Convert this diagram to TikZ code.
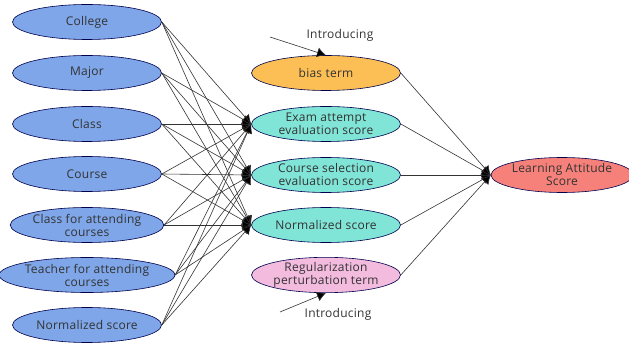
\documentclass[tikz,border=0pt]{standalone}
\usepackage{fontspec}
\setmainfont{Open Sans}[LetterSpace=2]
\usetikzlibrary{arrows.meta,shapes.geometric}
\definecolor{cblue}{HTML}{7EA6E8}
\definecolor{corange}{HTML}{FCBF55}
\definecolor{cteal}{HTML}{80E4D6}
\definecolor{cpink}{HTML}{F3BBDD}
\definecolor{csalmon}{HTML}{F6817A}
\tikzset{
  txt/.style={font=\fontsize{12}{13}\selectfont, text=black!80},
  el/.style={ellipse, draw=black!70!blue, line width=0.6pt, minimum width=149pt, minimum height=35pt, inner sep=0pt, align=center, txt},
  conn/.style={draw=black!80, line width=0.6pt, -{Latex[length=9pt,width=10pt,fill=black]}},
}
\begin{document}
\begin{tikzpicture}[x=1pt,y=-1pt]
\useasboundingbox (0,0) rectangle (629,347);
\node[el, fill=cblue] (l1) at (87,22) {College};
\node[el, fill=cblue] (l2) at (87,73) {Major};
\node[el, fill=cblue] (l3) at (87,124) {Class};
\node[el, fill=cblue] (l4) at (87,174) {Course};
\node[el, fill=cblue] (l5) at (87,225) {Class for attending\\courses};
\node[el, fill=cblue] (l6) at (87,275) {Teacher for attending\\courses};
\node[el, fill=cblue] (l7) at (87,325) {Normalized score};
\node[el, fill=corange] (m1) at (326,73) {bias term};
\node[el, fill=cteal] (m2) at (326,124) {Exam attempt\\evaluation score};
\node[el, fill=cteal] (m3) at (326,175) {Course selection\\evaluation score};
\node[el, fill=cteal] (m4) at (326,225) {Normalized score};
\node[el, fill=cpink] (m5) at (326,275) {Regularization\\perturbation term};
\node[el, fill=csalmon, minimum width=140pt] (r) at (562,175) {Learning Attitude\\Score};
\foreach \i in {1,...,7}{
  \foreach \j in {2,3,4}{
    \draw[conn] (l\i.east) -- (m\j.west);
  }
}
\foreach \j in {1,...,5}{
  \draw[conn] (m\j.east) -- (r.west);
}
\node[txt] (t1) at (340,35) {Introducing};
\coordinate (s1) at (270,37);
\draw[conn] (s1) -- (m1.north);
\node[txt] (t2) at (338,314) {Introducing};
\coordinate (s2) at (280,312);
\draw[conn] (s2) -- (m5.south);
\end{tikzpicture}
\end{document}
